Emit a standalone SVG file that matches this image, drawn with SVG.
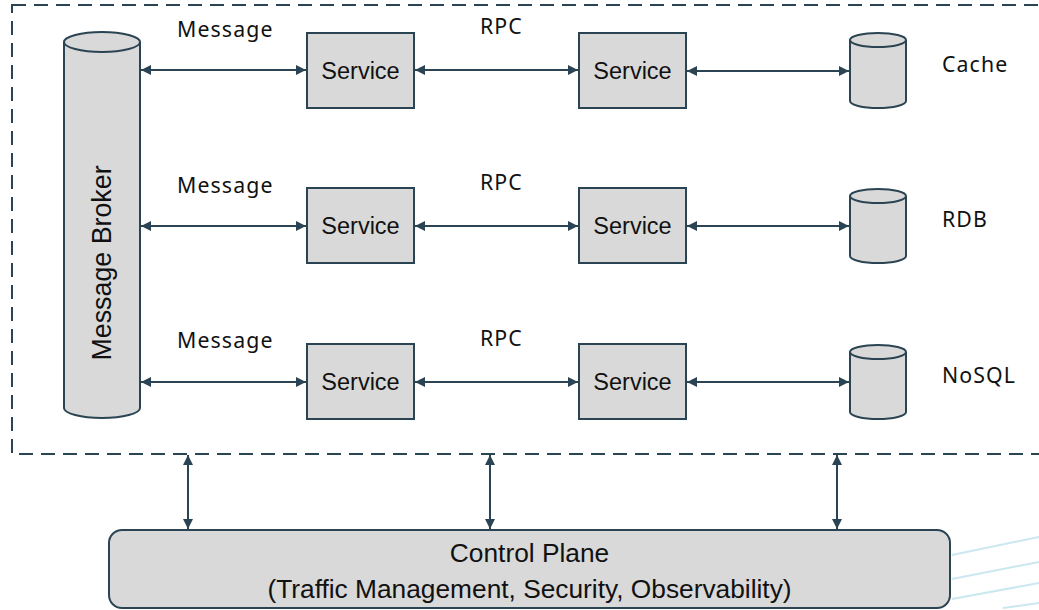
<svg xmlns="http://www.w3.org/2000/svg" width="1039" height="610" viewBox="0 0 1039 610">
<style>
.shape{fill:#d9d9d9;stroke:#2b4453;stroke-width:2}
.line{stroke:#2b4453;stroke-width:2;fill:none}
.svc{font-family:"Liberation Sans",Arial,sans-serif;font-size:23.5px;fill:#111;text-anchor:middle}
.big{font-family:"Liberation Sans",Arial,sans-serif;font-size:26.3px;fill:#111;text-anchor:middle}
.lbl{font-family:"Noto Sans","Open Sans",sans-serif;font-size:21.3px;fill:#111;letter-spacing:1.1px}
</style>
<defs>
<marker id="ah" viewBox="0 0 10 10" refX="10" refY="5" markerWidth="10" markerHeight="10" markerUnits="userSpaceOnUse" orient="auto-start-reverse">
<path d="M0,0 L10,5 L0,10 z" fill="#2b4453"/>
</marker>
</defs>
<rect id="boundary" x="12" y="5" width="1040" height="449" fill="none" stroke="#2b4453" stroke-width="2" stroke-dasharray="14 8"/>
<g id="broker">
<path class="shape" d="M64,42 L64,408 A38,10 0 0 0 140,408 L140,42"/>
<ellipse class="shape" cx="102" cy="42" rx="38" ry="10"/>
<text class="big" transform="translate(111,263) rotate(-90)" style="font-size:26.8px">Message Broker</text>
</g>
<g id="svc-1a"><rect class="shape" x="307" y="33" width="107" height="75"/><text class="svc" x="360.5" y="79">Service</text></g>
<g id="svc-1b"><rect class="shape" x="579" y="33" width="107" height="75"/><text class="svc" x="632.5" y="79">Service</text></g>
<g id="svc-2a"><rect class="shape" x="307" y="188" width="107" height="75"/><text class="svc" x="360.5" y="234">Service</text></g>
<g id="svc-2b"><rect class="shape" x="579" y="188" width="107" height="75"/><text class="svc" x="632.5" y="234">Service</text></g>
<g id="svc-3a"><rect class="shape" x="307" y="344" width="107" height="75"/><text class="svc" x="360.5" y="390">Service</text></g>
<g id="svc-3b"><rect class="shape" x="579" y="344" width="107" height="75"/><text class="svc" x="632.5" y="390">Service</text></g>
<g id="db-cache">
<path class="shape" d="M850,40 L850,101 A28,7 0 0 0 906,101 L906,40"/>
<ellipse class="shape" cx="878" cy="40" rx="28" ry="7"/>
<text class="lbl" x="942" y="72">Cache</text>
</g>
<g id="db-rdb">
<path class="shape" d="M850,196 L850,256 A28,7 0 0 0 906,256 L906,196"/>
<ellipse class="shape" cx="878" cy="196" rx="28" ry="7"/>
<text class="lbl" x="942" y="227">RDB</text>
</g>
<g id="db-nosql">
<path class="shape" d="M850,352 L850,412 A28,7 0 0 0 906,412 L906,352"/>
<ellipse class="shape" cx="878" cy="352" rx="28" ry="7"/>
<text class="lbl" x="942" y="383">NoSQL</text>
</g>
<g id="control-plane">
<rect class="shape" x="109" y="530" width="841" height="78" rx="13" ry="13"/>
<text class="big" x="529.5" y="562">Control Plane</text>
<text class="big" x="529.5" y="598">(Traffic Management, Security, Observability)</text>
</g>
<g id="connectors" class="line" marker-start="url(#ah)" marker-end="url(#ah)">
<line x1="141" y1="70" x2="306" y2="70"/>
<line x1="415" y1="70" x2="578" y2="70"/>
<line x1="687" y1="71" x2="849" y2="71"/>
<line x1="141" y1="226" x2="306" y2="226"/>
<line x1="415" y1="226" x2="578" y2="226"/>
<line x1="687" y1="226" x2="849" y2="226"/>
<line x1="141" y1="382" x2="306" y2="382"/>
<line x1="415" y1="382" x2="578" y2="382"/>
<line x1="687" y1="382" x2="849" y2="382"/>
<line x1="188" y1="455" x2="188" y2="529"/>
<line x1="490" y1="455" x2="490" y2="529"/>
<line x1="837" y1="455" x2="837" y2="529"/>
</g>
<g id="labels">
<text class="lbl" x="177" y="37">Message</text>
<text class="lbl" x="480" y="34">RPC</text>
<text class="lbl" x="177" y="193">Message</text>
<text class="lbl" x="480" y="190">RPC</text>
<text class="lbl" x="177" y="348">Message</text>
<text class="lbl" x="480" y="346">RPC</text>
</g>
<g id="streaks" stroke="#a9d9e8" stroke-width="2" opacity="0.6">
<line x1="952" y1="555" x2="1039" y2="537"/>
<line x1="952" y1="579" x2="1039" y2="562"/>
<line x1="952" y1="599" x2="1039" y2="583"/>
<line x1="1003" y1="608" x2="1039" y2="603"/>
</g>
</svg>
